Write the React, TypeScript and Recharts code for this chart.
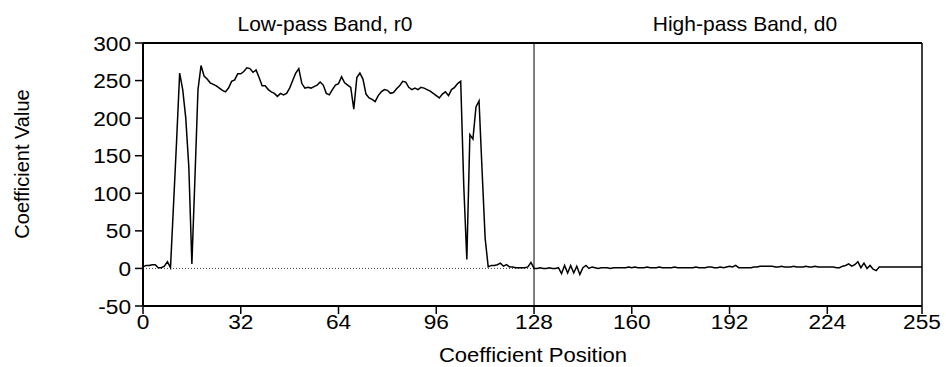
import { LineChart, Line, XAxis, YAxis, ReferenceLine } from "recharts"

// coefficient values: r0 occupies positions 0-127, d0 128-255
const lowPass = [
  2, 4, 4, 5, 5, 1, 1, 3, 9, 1,
  85, 170, 260, 238, 200, 135, 6, 120, 238, 270,
  256, 252, 247, 245, 243, 240, 237, 235, 240, 249,
  251, 259, 259, 262, 267, 266, 261, 264, 254, 243,
  243, 238, 235, 233, 229, 233, 231, 233, 240, 250,
  260, 266, 246, 240, 241, 240, 242, 244, 248, 244,
  233, 231, 238, 244, 246, 255, 247, 244, 241, 212,
  254, 260, 252, 232, 227, 225, 222, 230, 235, 238,
  237, 233, 234, 239, 243, 249, 248, 241, 238, 240,
  238, 241, 240, 238, 236, 233, 230, 227, 232, 235,
  230, 238, 241, 246, 249, 110, 12, 178, 172, 215,
  223, 130, 40, 2, 4, 4, 5, 7, 3, 5,
  2, 2, 1, 1, 1, 1, 2, 8,
]

const highPass = [
  0, 0, 1, 0, 0, 1, 0, 0, 1, -7,
  4, -6, 4, -6, 3, -8, 1, 4, 0, 2,
  1, 0, 1, 1, 1, 0, 1, 1, 1, 1,
  1, 2, 1, 2, 1, 1, 1, 2, 1, 1,
  1, 2, 1, 1, 1, 1, 2, 1, 1, 1,
  1, 1, 1, 2, 1, 1, 1, 2, 2, 1,
  1, 2, 1, 2, 3, 2, 4, 1, 1, 1,
  1, 1, 2, 2, 3, 3, 3, 3, 3, 2,
  2, 3, 2, 2, 2, 3, 2, 2, 2, 3,
  2, 2, 3, 2, 2, 2, 2, 2, 2, 1,
  1, 3, 4, 6, 3, 5, 9, 1, 7, 0,
  4, -1, -3, 2, 2, 2, 2, 2, 2, 2,
  2, 2, 2, 2, 2, 2, 2, 2,
]

const positions = Array.from({ length: 256 }, (_, i) => i)
const xTicks = [0, 32, 64, 96, 128, 160, 192, 224, 255]
const yTicks = [-50, 0, 50, 100, 150, 200, 250, 300]
const bandTitles = ["Low-pass Band, r0", "High-pass Band, d0"]

const values = [...lowPass, ...highPass]
const data = positions.map((pos, i) => ({ pos, value: values[i] }))

const font = "'Liberation Sans', Arial, Helvetica, sans-serif"

function XTick(props: any) {
  const { x, y, payload } = props
  return (
    <text
      transform={`translate(${x},${y}) scale(1.08,1)`}
      textAnchor="middle"
      dy="0.71em"
      fontSize={21}
      fontFamily={font}
      fill="#000"
    >
      {payload.value}
    </text>
  )
}

function YTick(props: any) {
  const { x, y, payload } = props
  return (
    <text
      transform={`translate(${x},${y}) scale(1.08,1)`}
      textAnchor="end"
      dy="0.36em"
      fontSize={21}
      fontFamily={font}
      fill="#000"
    >
      {payload.value}
    </text>
  )
}

export default function App() {
  return (
    <div style={{ position: "absolute", left: 0, top: 0, background: "#fff" }}>
      <LineChart
        width={946}
        height={367}
        data={data}
        margin={{ top: 43, right: 24, bottom: 21, left: 0 }}
      >
        <XAxis
          dataKey="pos"
          type="number"
          domain={[0, 255]}
          ticks={xTicks}
          interval={0}
          height={40}
          tickSize={8}
          tickMargin={0}
          tick={<XTick />}
          axisLine={{ stroke: "#000", strokeWidth: 2 }}
          tickLine={{ stroke: "#000", strokeWidth: 1.5 }}
        />
        <YAxis
          type="number"
          domain={[-50, 300]}
          ticks={yTicks}
          interval={0}
          width={143}
          tickSize={8}
          tickMargin={4}
          tick={<YTick />}
          axisLine={{ stroke: "#000", strokeWidth: 2 }}
          tickLine={{ stroke: "#000", strokeWidth: 1.5 }}
        />
        <ReferenceLine
          segment={[{ x: 0, y: 0 }, { x: 128, y: 0 }]}
          stroke="#444"
          strokeDasharray="1 2"
        />
        <ReferenceLine y={300} stroke="#000" strokeWidth={2} />
        <ReferenceLine x={255} stroke="#000" strokeWidth={1.5} />
        <ReferenceLine x={128} stroke="#000" strokeWidth={1} />
        <Line
          type="linear"
          dataKey="value"
          stroke="#000"
          strokeWidth={1.5}
          dot={false}
          isAnimationActive={false}
        />
        <text x={325} y={31} textAnchor="middle" fontSize={20} fontFamily={font} fill="#000" transform="translate(-16.25,0) scale(1.05,1)">
          {bandTitles[0]}
        </text>
        <text x={745} y={31} textAnchor="middle" fontSize={20} fontFamily={font} fill="#000" transform="translate(-37.25,0) scale(1.05,1)">
          {bandTitles[1]}
        </text>
        <text x={533} y={362} textAnchor="middle" fontSize={21} fontFamily={font} fill="#000" transform="translate(-26.65,0) scale(1.05,1)">
          Coefficient Position
        </text>
        <text
          transform="translate(22,164) rotate(-90)"
          textAnchor="middle"
          dy="0.36em"
          fontSize={20}
          fontFamily={font}
          fill="#000"
        >
          Coefficient Value
        </text>
      </LineChart>
    </div>
  )
}
